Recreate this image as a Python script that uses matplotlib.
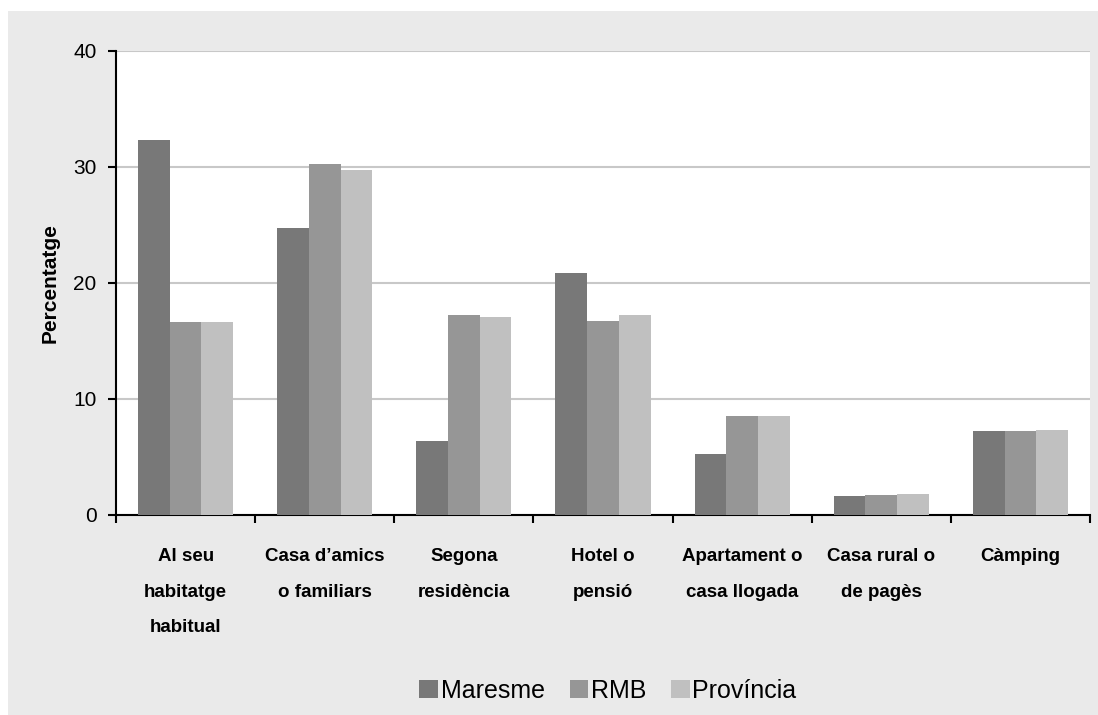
"""Allotjament durant les vacances: Maresme vs RMB vs Província (bar chart, greyscale)."""
import matplotlib.pyplot as plt
from matplotlib.patches import Rectangle
import numpy as np

# --- Data ---
categories = [
    "Al seu\nhabitatge\nhabitual",
    "Casa d\u2019amics\no familiars",
    "Segona\nresidència",
    "Hotel o\npensió",
    "Apartament o\ncasa llogada",
    "Casa rural o\nde pagès",
    "Càmping",
]
maresme   = [32.3, 24.7, 6.4, 20.9, 5.3, 1.6, 7.2]
rmb       = [16.6, 30.3, 17.2, 16.7, 8.5, 1.7, 7.2]
provincia = [16.6, 29.7, 17.1, 17.2, 8.5, 1.8, 7.3]

series = [("Maresme", maresme, "#787878"),
          ("RMB", rmb, "#969696"),
          ("Província", provincia, "#c0c0c0")]

plt.rcParams["font.family"] = ["Liberation Sans", "DejaVu Sans"]

fig = plt.figure(figsize=(10.98, 7.15), dpi=100, facecolor="white")
# grey panel behind everything (small white margin top/left)
fig.patches.append(Rectangle((8 / 1098, 0), 1, 1 - 11 / 715, transform=fig.transFigure,
                             facecolor="#eaeaea", edgecolor="none", zorder=-10))

ax = fig.add_axes([116 / 1098, 1 - 515 / 715, 974 / 1098, 464 / 715])
ax.set_facecolor("white")

x = np.arange(len(categories))
w = 0.228
for i, (name, vals, col) in enumerate(series):
    ax.bar(x + (i - 1) * w, vals, width=w, color=col, label=name, zorder=3)

ax.set_xlim(-0.5, len(categories) - 0.5)
ax.set_ylim(0, 40)
ax.set_yticks([0, 10, 20, 30, 40])
ax.yaxis.grid(True, color="#c8c8c8", linewidth=1.5, zorder=0)
ax.set_axisbelow(True)

# category boundaries carry the x ticks
ax.set_xticks(np.arange(len(categories) + 1) - 0.5)
ax.set_xticklabels([])
ax.set_xticks(x, minor=True)
ax.set_xticklabels(categories, minor=True, fontsize=13.5, fontweight="bold",
                   linespacing=2.4, va="top")
ax.tick_params(axis="x", which="minor", length=0, pad=24)
ax.tick_params(axis="x", which="major", length=6, width=1.5, direction="out")
ax.tick_params(axis="y", length=6, width=1.5, labelsize=15, pad=8)

for s in ["top", "right"]:
    ax.spines[s].set_visible(False)
for s in ["left", "bottom"]:
    ax.spines[s].set_linewidth(1.5)
    ax.spines[s].set_color("black")

ax.set_ylabel("Percentatge", fontsize=15, fontweight="bold", labelpad=10)

leg = ax.legend(loc="center", bbox_to_anchor=(608 / 1098, 1 - 691 / 715),
                bbox_transform=fig.transFigure, ncol=3, frameon=False,
                fontsize=18, handlelength=0.75, handleheight=0.75,
                handletextpad=0.1, columnspacing=1.0)

plt.savefig("out.png", dpi=100, facecolor="white")
